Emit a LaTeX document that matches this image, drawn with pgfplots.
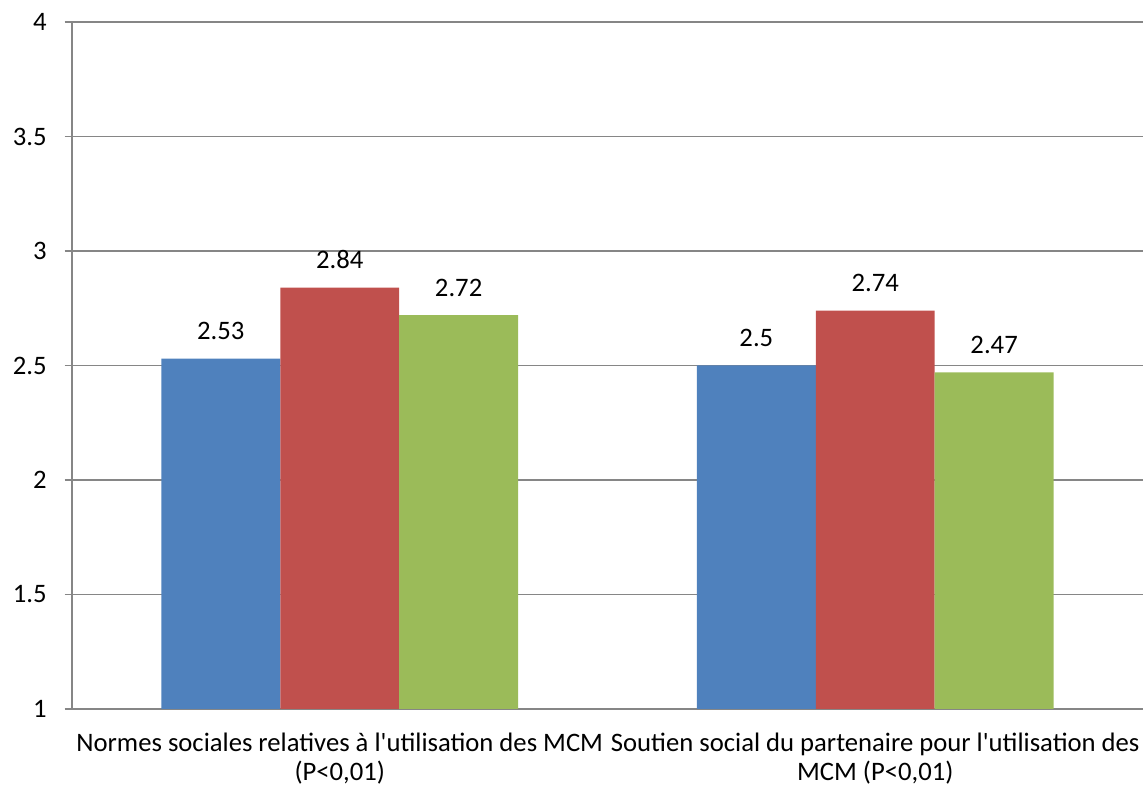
\documentclass[border=0pt]{standalone}
\usepackage{pgfplots}
\pgfplotsset{compat=1.18}
\usepackage{fontspec}
\setmainfont{Carlito}
\definecolor{cblue}{HTML}{4F81BD}
\definecolor{cred}{HTML}{C0504D}
\definecolor{cgreen}{HTML}{9BBB59}
\definecolor{axgray}{HTML}{868686}
\begin{document}
\begin{tikzpicture}
\path[use as bounding box] (-54pt,-62.25pt) rectangle (806.25pt,531.75pt);
\begin{axis}[
  at={(0,0)}, anchor=south west,
  scale only axis,
  width=803.25pt, height=515.25pt,
  xmin=-0.5, xmax=1.5,
  ymin=1, ymax=4,
  ytick={1,1.5,2,2.5,3,3.5,4},
  yticklabels={1,1.5,2,2.5,3,3.5,4},
  xtick={0,1},
  xticklabels={{Normes sociales relatives à l\textquotesingle utilisation des MCM\\(P<0,01)},{Soutien social du partenaire pour l\textquotesingle utilisation des\\MCM (P<0,01)}},
  xticklabel style={align=center, font=\fontsize{20pt}{22pt}\selectfont, yshift=-9pt},
  yticklabel style={font=\fontsize{20pt}{22pt}\selectfont, xshift=-10pt},
  /pgf/number format/assume math mode=true,
  major x tick style={draw=none},
  extra x ticks={-0.5,0.5,1.5},
  extra x tick labels={},
  extra x tick style={major tick length=6pt, tick style={axgray, line width=0.9pt, draw=axgray}, grid=none},
  tick align=outside,
  major tick length=5.5pt,
  y tick style={axgray, line width=0.9pt},
  axis x line*=bottom,
  axis y line*=left,
  axis line style={axgray, line width=0.9pt, -},
  ymajorgrids,
  grid style={axgray, line width=0.9pt},
  ybar=0pt,
  bar width=0.222,
  nodes near coords,
  every node near coord/.append style={font=\fontsize{20pt}{22pt}\selectfont, anchor=base, yshift=14pt, black},
  clip=false,
]
\addplot[fill=cblue, draw=none, bar shift=-0.222] coordinates {(0,2.53) (1,2.5)};
\addplot[fill=cred, draw=none, bar shift=0] coordinates {(0,2.84) (1,2.74)};
\addplot[fill=cgreen, draw=none, bar shift=0.222] coordinates {(0,2.72) (1,2.47)};
\end{axis}
\end{tikzpicture}
\end{document}
